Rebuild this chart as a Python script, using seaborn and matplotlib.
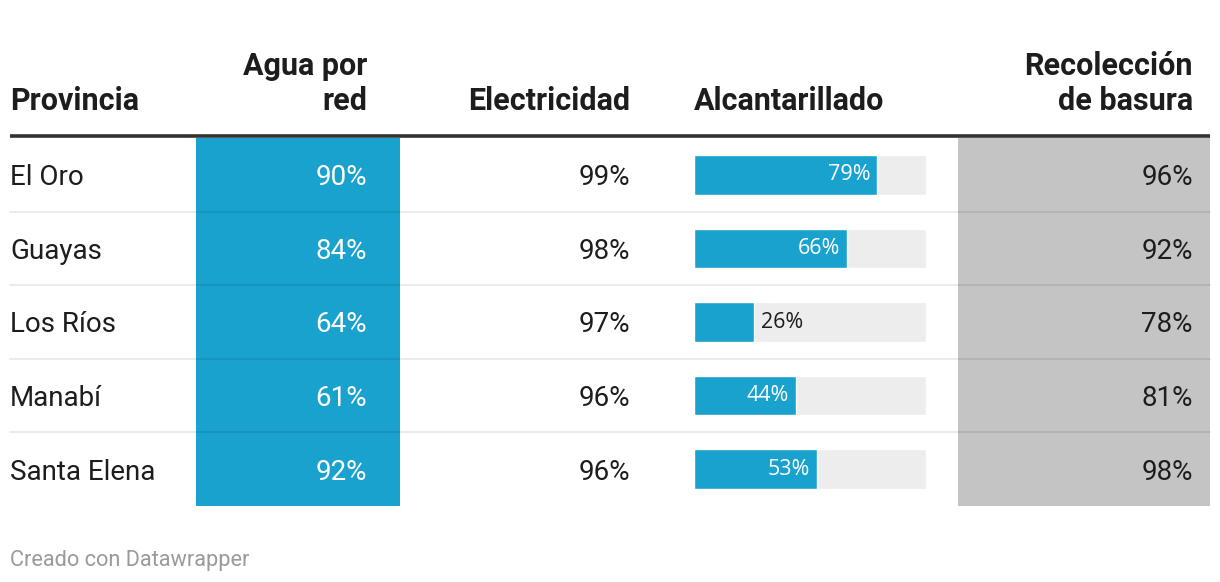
import matplotlib
matplotlib.use("Agg")
import matplotlib.pyplot as plt
import seaborn as sns
import pandas as pd
from matplotlib.patches import Rectangle

provincias = ["El Oro", "Guayas", "Los Ríos", "Manabí", "Santa Elena"]
agua = [90, 84, 64, 61, 92]
electricidad = [99, 98, 97, 96, 96]
alcantarillado = [79, 66, 26, 44, 53]
basura = [96, 92, 78, 81, 98]
headers = ["Provincia", "Agua por\nred", "Electricidad", "Alcantarillado", "Recolección\nde basura"]

sns.set_style("white")
plt.rcParams["font.family"] = ["Roboto", "DejaVu Sans"]

W, H = 1220, 582
BLUE = "#19a2ce"
GRAY_COL = "#c4c4c4"
TXT = "#1d1d1d"

fig = plt.figure(figsize=(W / 100, H / 100), dpi=100)
ax = fig.add_axes([0, 0, 1, 1])
ax.set_xlim(0, W)
ax.set_ylim(H, 0)
ax.axis("off")

top, bottom = 138, 506
row_h = (bottom - top) / len(provincias)

# shaded columns
ax.add_patch(Rectangle((196, top), 204, bottom - top, color=BLUE, lw=0, zorder=1))
ax.add_patch(Rectangle((958, top), 252, bottom - top, color=GRAY_COL, lw=0, zorder=1))

# header
hs = 22
ax.text(10, 110, headers[0], ha="left", va="baseline", fontsize=hs, fontweight="bold", color=TXT)
ax.text(367, 110, headers[1], ha="right", va="baseline", fontsize=hs, fontweight="bold", color=TXT,
        linespacing=1.22, multialignment="right")
ax.text(630, 110, headers[2], ha="right", va="baseline", fontsize=hs, fontweight="bold", color=TXT)
ax.text(694, 110, headers[3], ha="left", va="baseline", fontsize=hs, fontweight="bold", color=TXT)
ax.text(1193, 110, headers[4], ha="right", va="baseline", fontsize=hs, fontweight="bold", color=TXT,
        linespacing=1.22, multialignment="right")
ax.plot([10, 1210], [136, 136], color="#333333", lw=2.6, solid_capstyle="butt", zorder=3)

# rows
bs = 20
for i, p in enumerate(provincias):
    yc = top + row_h * (i + 0.5)
    ax.text(10, yc, p, ha="left", va="center_baseline", fontsize=bs, color=TXT)
    ax.text(367, yc, f"{agua[i]}%", ha="right", va="center_baseline", fontsize=bs, color="white")
    ax.text(630, yc, f"{electricidad[i]}%", ha="right", va="center_baseline", fontsize=bs, color=TXT)
    ax.text(1193, yc, f"{basura[i]}%", ha="right", va="center_baseline", fontsize=bs, color=TXT)
    if i < len(provincias) - 1:
        yl = top + row_h * (i + 1)
        ax.plot([10, 1210], [yl, yl], color="black", alpha=0.08, lw=1.5, zorder=2)

# footer
ax.text(10, 558, "Creado con Datawrapper", ha="left", va="center_baseline", fontsize=15.7, color="#9a9a9a")

# bar column
bax = fig.add_axes([694 / W, (H - bottom) / H, 232 / W, (bottom - top) / H])
df = pd.DataFrame({"prov": provincias, "val": alcantarillado, "full": [100] * len(provincias)})
sns.barplot(data=df, x="full", y="prov", color="#ededed", width=0.54, ax=bax, saturation=1)
sns.barplot(data=df, x="val", y="prov", color=BLUE, width=0.54, ax=bax, saturation=1)
bax.set_xlim(0, 100)
bax.set_ylim(len(provincias) - 0.5, -0.5)
bax.axis("off")
bax.patch.set_alpha(0)
for i, v in enumerate(alcantarillado):
    if v >= 35:
        bax.text(v - 3, i, f"{v}%", ha="right", va="center", fontsize=15.5, color="white",
                 family=["Open Sans", "DejaVu Sans"])
    else:
        bax.text(v + 3, i, f"{v}%", ha="left", va="center", fontsize=15.5, color=TXT,
                 family=["Open Sans", "DejaVu Sans"])

fig.savefig("out.png", dpi=100)
